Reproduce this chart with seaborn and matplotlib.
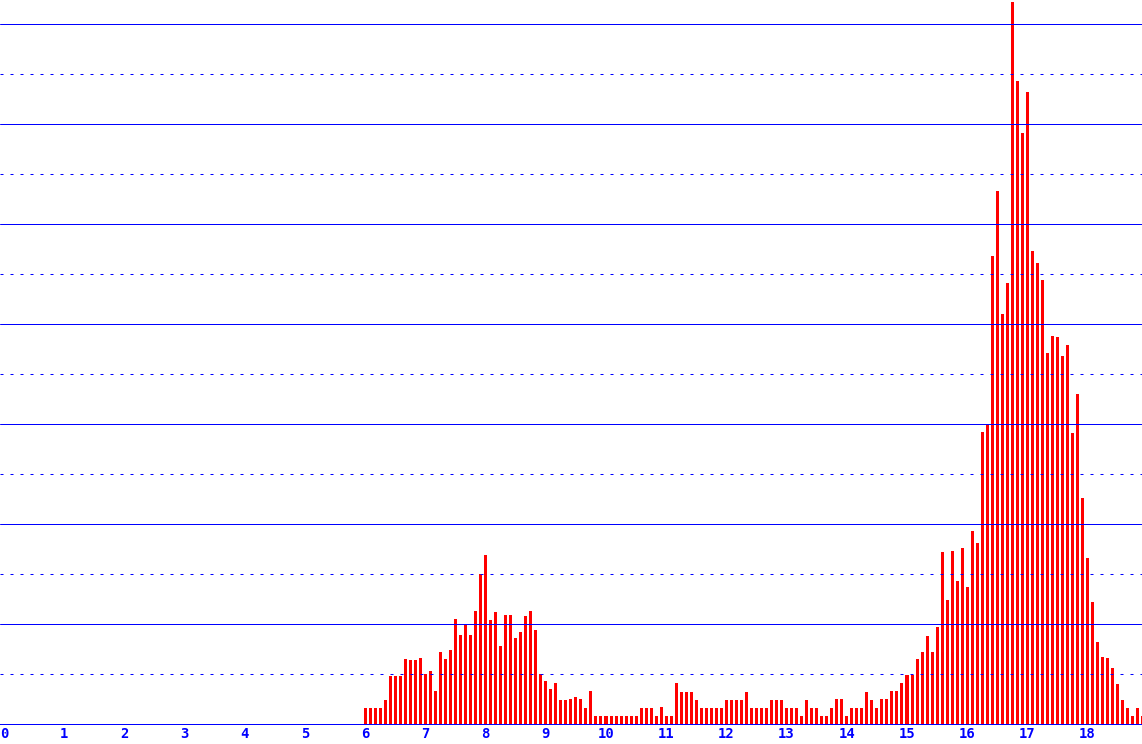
import numpy as np
import pandas as pd
import matplotlib
matplotlib.use('Agg')
import matplotlib.pyplot as plt
from matplotlib.ticker import MultipleLocator
import seaborn as sns

# Contagens por intervalo de 5 minutos, das 6:00 às 18:55
hora_inicio = 6
minutos_por_barra = 5
contagens = [
    16, 16, 16, 16, 24, 48, 48, 48, 65, 64, 64, 66,          # 6h
    50, 53, 33, 72, 65, 74, 105, 89, 99, 89, 113, 150,       # 7h
    169, 104, 112, 78, 109, 109, 86, 92, 108, 113, 94, 50,   # 8h
    43, 35, 41, 24, 24, 25, 27, 25, 16, 33, 8, 8,            # 9h
    8, 8, 8, 8, 8, 8, 8, 16, 16, 16, 8, 17,                  # 10h
    8, 8, 41, 32, 32, 32, 24, 16, 16, 16, 16, 16,            # 11h
    24, 24, 24, 24, 32, 16, 16, 16, 16, 24, 24, 24,          # 12h
    16, 16, 16, 8, 24, 16, 16, 8, 8, 16, 25, 25,             # 13h
    8, 16, 16, 16, 32, 24, 16, 25, 25, 33, 33, 41,           # 14h
    49, 49, 65, 72, 88, 72, 97, 172, 124, 173, 143, 176,     # 15h
    137, 193, 181, 292, 300, 468, 533, 410, 441, 722, 643, 591,  # 16h
    632, 473, 461, 444, 371, 388, 387, 368, 379, 291, 330, 226,  # 17h
    166, 122, 82, 67, 66, 56, 40, 24, 16, 8, 16, 8,          # 18h
]
rotulos_x = ['0', '1', '2', '3', '4', '5', '6', '7', '8', '9',
             '10', '11', '12', '13', '14', '15', '16', '17', '18']

AZUL = '#0000ff'
VERMELHO = '#ff0000'


def gerar_grafico(df):
    sns.set_theme(style='white')
    plt.rcParams['font.family'] = ['DejaVu Sans Mono', 'DejaVu Sans']

    fig = plt.figure(figsize=(11.42, 7.44), dpi=100)
    ax = fig.add_axes([0, 20 / 744, 1, 724 / 744])

    sns.barplot(data=df, x='hora', y='contagem', native_scale=True, width=0.6,
                color=VERMELHO, saturation=1, errorbar=None, linewidth=0,
                ax=ax)

    # escala horizontal: cerca de 60.2 px por hora, 0h a 4 px da borda
    ax.set_xlim(-4 / 60.2, 1138 / 60.2)
    ax.set_ylim(0, 724)

    ax.set_xticks(range(len(rotulos_x)))
    ax.set_xticklabels(rotulos_x, fontweight='bold')
    ax.tick_params(axis='x', length=0, pad=2.5, labelsize=10, labelcolor=AZUL)

    ax.yaxis.set_major_locator(MultipleLocator(100))
    ax.yaxis.set_minor_locator(MultipleLocator(50))
    ax.tick_params(axis='y', which='both', left=False, labelleft=False)

    ax.set_axisbelow(False)
    ax.grid(which='major', axis='y', color=AZUL, linewidth=0.72, linestyle='-')
    ax.grid(which='minor', axis='y', color=AZUL, linewidth=0.72,
            linestyle=(0, (3, 7)))
    ax.grid(which='both', axis='x', visible=False)

    for lado in ['top', 'left', 'right']:
        ax.spines[lado].set_visible(False)
    ax.spines['bottom'].set_color(AZUL)
    ax.spines['bottom'].set_linewidth(0.72)

    ax.set_xlabel('')
    ax.set_ylabel('')
    fig.savefig('out.png', dpi=100, facecolor='white')
    plt.close(fig)


if __name__ == '__main__':
    horas = hora_inicio + np.arange(len(contagens)) * minutos_por_barra / 60
    df_contagens = pd.DataFrame({'hora': horas, 'contagem': contagens})
    gerar_grafico(df_contagens)
